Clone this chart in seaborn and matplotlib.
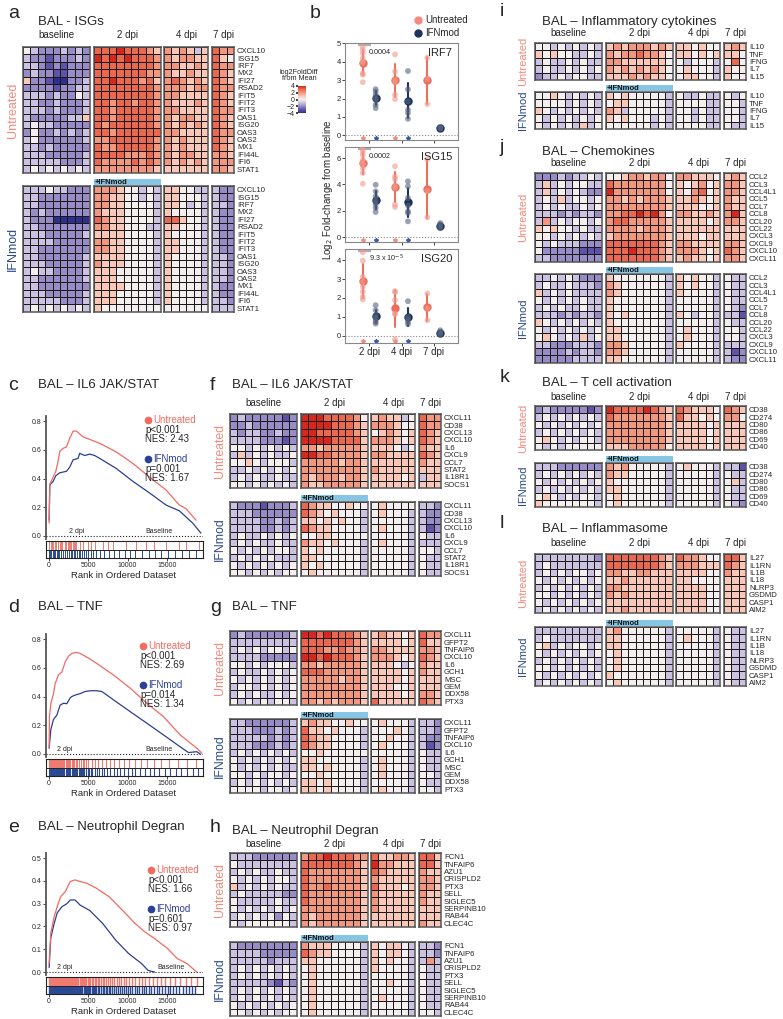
import numpy as np
import pandas as pd
import matplotlib
matplotlib.use('Agg')
import matplotlib.pyplot as plt
import seaborn as sns
from matplotlib.colors import LinearSegmentedColormap

# ---------------- data ----------------
DAYS = ['2 dpi', '4 dpi', '7 dpi']
GROUPS = ['Untreated', 'IFNmod']
BLOCKS = ['baseline', '2 dpi', '4 dpi', '7 dpi']

# heatmap rows: digits 0..8 -> log2FoldDiff -4..4 ; blocks baseline(9) 2dpi(9) 4dpi(6) 7dpi(3)
isg_genes = ['CXCL10', 'ISG15', 'IRF7', 'MX2', 'IFI27', 'RSAD2', 'IFIT5', 'IFIT2', 'IFIT3',
             'OAS1', 'ISG20', 'OAS3', 'OAS2', 'MX1', 'IFI44L', 'IFI6', 'STAT1']
isg_unt = ["432223232 777877765 656535 766", "322122232 878787776 656655 754",
           "332121222 777777776 665565 766", "232211222 777777766 655655 765",
           "522100223 778777675 676565 765", "222212233 777777776 666566 766",
           "333232243 777777776 665555 765", "332232223 776776776 655565 765",
           "333232223 776777776 665555 766", "322222335 776777776 656655 765",
           "343322222 767777776 656565 765", "242232323 776777777 665555 766",
           "342222223 667777776 656555 765", "332322222 766777776 656555 765",
           "333222223 777766676 656655 665", "333332223 766667676 656565 666",
           "343434343 666666665 555555 665"]
isg_ifn = ["333433222 666544343 554433 322", "332222222 665544343 554443 322",
           "332222222 665544443 554343 332", "323222222 655544443 544443 322",
           "322200000 765544443 775443 322", "332222222 665544433 554443 322",
           "333222223 555544443 544443 322", "333322222 665544443 554443 322",
           "332222222 665544443 554443 322", "332222223 555544443 544443 332",
           "333222223 655544443 544443 332", "343322223 555444443 544443 332",
           "332222223 555444443 544443 332", "332222222 555544443 544443 322",
           "333222223 555444443 544443 322", "333332223 555444443 544443 332",
           "343434343 544444444 444444 333"]

il6_genes = ['CXCL11', 'CD38', 'CXCL13', 'CXCL10', 'IL6', 'CXCL9', 'CCL7', 'STAT2', 'IL18R1', 'SOCS1']
il6_unt = ["232222212 888777764 565534 766", "223222222 888877765 666544 766",
           "323322322 887777765 456545 765", "333322212 888877775 666545 765",
           "443434343 665666665 555434 655", "353434334 887766665 665555 765",
           "445434443 666665665 555555 655", "334343434 666666665 655555 555",
           "343433433 656665665 555545 355", "443434343 655666665 555555 555"]
il6_ifn = ["322212223 765544544 454444 332", "333222222 765454443 454443 322",
           "333322323 554545443 444443 322", "333322323 765544443 454443 312",
           "343343434 445544444 444443 433", "343433433 655454443 454443 333",
           "434343443 545444443 444443 443", "343434333 554444443 444443 433",
           "434343434 545444443 444443 433", "443434344 454444443 444443 433"]

tnf_genes = ['CXCL11', 'GFPT2', 'TNFAIP6', 'CXCL10', 'IL6', 'GCH1', 'MSC', 'GEM', 'DDX58', 'PTX3']
tnf_unt = ["232222223 887877765 565545 766", "333333333 777777765 555545 755",
           "343434434 777667665 665555 665", "333322222 887877765 666545 765",
           "443434443 665666665 555434 655", "343343434 777666665 555545 655",
           "434343434 666665665 555545 555", "344343434 666666665 555445 555",
           "343433434 666666665 555545 665", "434343443 665656665 755555 765"]
tnf_ifn = ["332222223 565544544 454443 332", "333222323 755454443 444543 332",
           "333332323 765544443 445443 322", "333222323 765544443 454443 312",
           "343434343 445444444 444443 433", "434343434 554444443 454443 433",
           "434343433 554544443 454443 433", "443434434 445444443 454443 443",
           "343434343 554544443 444443 433", "444434434 554544443 454443 443"]

neu_genes = ['FCN1', 'TNFAIP6', 'AZU1', 'CRISPLD2', 'PTX3', 'SELL', 'SIGLEC5', 'SERPINB10', 'RAB44', 'CLEC4C']
neu_unt = ["333222222 677877766 755665 775", "433333333 777777765 866555 775",
           "343433433 766666665 765555 655", "434343443 766666665 655555 665",
           "534343433 766766665 755545 665", "343333322 766666665 655555 655",
           "433333433 766666665 655555 655", "434343434 666666665 655555 555",
           "343434243 656666665 555555 555", "434444443 656666665 555555 655"]
neu_ifn = ["322222222 655544443 545543 332", "333322222 765544443 545543 332",
           "333332333 554444443 545443 363", "343434343 454444443 544443 433",
           "343434343 454444443 444443 433", "333332132 454444443 445443 433",
           "343434343 454444443 444443 433", "343434343 454444443 454443 433",
           "434343434 454444443 444443 433", "443434344 454444443 444443 443"]

cyt_genes = ['IL10', 'TNF', 'IFNG', 'IL7', 'IL15']
cyt_unt = ["443434343 565666565 554544 565", "545443343 656676654 554545 554",
           "343343433 665555554 434443 474", "343343434 656565654 454443 544",
           "233434433 555656554 455443 544"]
cyt_ifn = ["445434343 545444443 433433 434", "444434343 455444443 444433 443",
           "543434343 653444443 443433 443", "434343434 545444343 443433 443",
           "434343534 444444343 444433 433"]

chem_genes = ['CCL2', 'CCL3', 'CCL4L1', 'CCL5', 'CCL7', 'CCL8', 'CCL20', 'CCL22',
              'CXCL3', 'CXCL9', 'CXCL10', 'CXCL11']
chem_unt = ["222323343 445665664 665554 565", "353434433 766666664 545645 665",
            "353434322 866666664 546745 665", "343534434 665656665 556545 655",
            "343433434 666666665 555445 655", "333232332 667787864 665565 685",
            "363434434 677666665 555545 665", "545443433 666656665 555555 555",
            "443434343 566666665 555455 555", "434333222 777777765 665555 665",
            "422222111 777877765 666545 765", "332222222 777777765 565545 665"]
chem_ifn = ["334343222 544444443 545443 433", "343343332 654444443 545443 433",
            "534343333 654444443 544443 433", "434343433 544444443 444443 433",
            "343433433 544444443 444443 432", "333232332 545444443 543443 331",
            "543434343 544444443 444443 433", "434343434 554444443 454443 443",
            "454343534 554444443 454443 443", "332223332 665444443 544443 333",
            "222232332 665444443 444443 312", "222223333 554444443 444443 322"]

tcell_genes = ['CD38', 'CD274', 'CD80', 'CD86', 'CD69', 'CD40']
tcell_unt = ["232222212 877778765 765554 765", "343434343 766666665 755454 664",
             "434343434 666666665 555545 555", "343434343 666666665 555545 555",
             "454343443 666666665 555545 555", "434344444 555666664 555545 555"]
tcell_ifn = ["333222222 656444443 454443 331", "343434343 655444443 444443 433",
             "434343434 544444443 444443 453", "343434343 554444443 444443 433",
             "454343443 454444443 444443 433", "544444443 454444443 444443 432"]

infl_genes = ['IL27', 'IL1RN', 'IL1B', 'IL18', 'NLRP3', 'GSDMD', 'CASP1', 'AIM2']
infl_unt = ["333333332 777777765 766544 775", "343333333 777777765 666555 765",
            "343434434 665566555 555544 655", "434343434 556555555 554444 555",
            "343434343 665555555 555544 555", "443434343 656555555 555544 555",
            "434343434 555555555 555544 555", "343434343 556555555 555544 555"]
infl_ifn = ["333333333 564444443 444443 433", "343333333 554444443 454443 433",
            "453434434 554444443 444443 433", "434343434 454444443 444443 433",
            "343434343 454444443 444443 433", "443434343 454444443 444443 433",
            "434343434 544444443 444443 433", "343434343 454444443 444443 433"]

# panel b: log2 fold-change from baseline
irf7 = {('2 dpi', 'Untreated'): [4.82, 4.64, 4.46, 4.19, 4.0, 3.95, 3.38, 3.29, 2.89],
        ('2 dpi', 'IFNmod'): [2.51, 2.38, 2.2, 2.02, 1.93, 1.66, 1.48],
        ('4 dpi', 'Untreated'): [4.4, 3.47, 3.01, 2.87, 2.2, 1.97],
        ('4 dpi', 'IFNmod'): [3.5, 2.5, 1.84, 1.39, 1.21, 0.9],
        ('7 dpi', 'Untreated'): [4.22, 3.05, 1.7],
        ('7 dpi', 'IFNmod'): [0.45, 0.40, 0.36]}
isg15 = {('2 dpi', 'Untreated'): [6.7, 6.5, 6.25, 5.87, 5.67, 5.5, 5.24, 4.86, 4.05],
         ('2 dpi', 'IFNmod'): [3.97, 3.47, 3.09, 2.84, 2.63, 2.46, 2.2, 1.9],
         ('4 dpi', 'Untreated'): [5.37, 4.6, 4.4, 3.9, 3.72, 2.46, 2.28],
         ('4 dpi', 'IFNmod'): [4.23, 3.85, 2.96, 2.38, 1.95, 1.82, 1.19],
         ('7 dpi', 'Untreated'): [5.9, 3.5, 1.5],
         ('7 dpi', 'IFNmod'): [1.06, 0.94, 0.81, 0.68]}
isg20 = {('2 dpi', 'Untreated'): [4.41, 3.97, 3.12, 2.86, 2.59, 2.33, 2.06, 1.92],
         ('2 dpi', 'IFNmod'): [1.62, 1.36, 1.09, 0.97, 0.86, 0.74, 0.65],
         ('4 dpi', 'Untreated'): [2.36, 2.3, 1.89, 1.18, 1.15, -0.18],
         ('4 dpi', 'IFNmod'): [1.83, 1.0, 0.86, 0.74, 0.62],
         ('7 dpi', 'Untreated'): [2.24, 1.45, 0.83],
         ('7 dpi', 'IFNmod'): [0.3, 0.21, 0.12, 0.07]}

# GSEA running enrichment scores (rank, ES)
c_unt_rank = [0, 85, 510, 850, 1140, 1360, 1780, 2200, 2630, 3050, 3470, 4320, 6440, 8550,
              10670, 12780, 14900, 16590, 17440, 18710]
c_unt_es = [0.09, 0.36, 0.41, 0.45, 0.52, 0.59, 0.61, 0.62, 0.68, 0.73, 0.73, 0.69, 0.645,
            0.585, 0.505, 0.41, 0.32, 0.215, 0.19, 0.11]
c_ifn_rank = [0, 85, 510, 850, 1360, 2200, 2630, 3050, 3680, 3890, 4530, 5170, 5800, 6440,
              8550, 10670, 12780, 14900, 16590, 18280, 19330]
c_ifn_es = [0.11, 0.355, 0.38, 0.42, 0.44, 0.45, 0.48, 0.53, 0.54, 0.575, 0.56, 0.57, 0.56,
            0.54, 0.47, 0.38, 0.30, 0.215, 0.175, 0.09, 0.02]
d_unt_rank = [0, 40, 215, 550, 765, 1185, 1620, 2040, 2460, 2890, 3530, 3950, 5010, 6075,
              8190, 10320, 12450, 14560, 16690, 18815, 19455]
d_unt_es = [0.05, 0.26, 0.35, 0.42, 0.49, 0.55, 0.57, 0.64, 0.68, 0.70, 0.707, 0.70, 0.667,
            0.63, 0.55, 0.458, 0.353, 0.26, 0.133, 0.04, 0.005]
d_ifn_rank = [0, 215, 550, 980, 1400, 1825, 2255, 2675, 2890, 3310, 3950, 4585, 5225, 6075,
              6715, 8190, 10320, 12450, 14560, 16690, 17750, 18815, 19240]
d_ifn_es = [0.04, 0.17, 0.24, 0.27, 0.34, 0.353, 0.35, 0.39, 0.40, 0.41, 0.42, 0.435, 0.44,
            0.44, 0.435, 0.377, 0.295, 0.214, 0.133, 0.05, 0.01, 0.016, 0.0]
e_unt_rank = [0, 207, 620, 1033, 1447, 2067, 2687, 3307, 3927, 4753, 5993, 7647, 8887, 10953,
              12193, 13433, 15087, 16327, 17567, 18807]
e_unt_es = [0.037, 0.17, 0.24, 0.287, 0.33, 0.353, 0.397, 0.404, 0.397, 0.39, 0.368, 0.33,
            0.287, 0.213, 0.176, 0.147, 0.103, 0.059, 0.037, 0.0]
e_ifn_rank = [0, 207, 620, 1033, 1653, 2273, 2687, 3307, 3927, 5167, 6820, 8473, 10127,
              11780, 12607, 13433]
e_ifn_es = [0.02, 0.15, 0.21, 0.26, 0.287, 0.30, 0.316, 0.316, 0.294, 0.27, 0.213, 0.14,
            0.081, 0.037, 0.007, 0.0]

# gene-set hit positions in the ranked list (barcodes)
c_unt_hits = [40, 180, 330, 520, 700, 930, 1150, 1360, 1500, 1700, 1990, 2200, 2350, 2500,
              2650, 2840, 3000, 3150, 3300, 3470, 3900, 4320, 4950, 5380, 5800, 6860, 7490,
              8130, 9820, 11090, 12360, 13420, 14900, 16590, 17440, 19130]
c_ifn_hits = [20, 150, 300, 450, 620, 800, 980, 1150, 1300, 1500, 1750, 2000, 2250, 2500,
              2750, 2950, 3150, 3350, 3550, 3750, 3950, 4150, 4400, 4700, 5000, 5300, 5650,
              6000, 6500, 7000, 7600, 8200, 8900, 9600, 10300, 11000, 11800, 12700, 13500,
              14300, 15100, 16000, 16900, 17800, 18700]
d_unt_hits = [20, 120, 230, 340, 460, 580, 700, 820, 940, 1060, 1180, 1300, 1420, 1550, 1680,
              1810, 1950, 2100, 2250, 2400, 2550, 2700, 2850, 3000, 3200, 3400, 3600, 3800,
              4000, 4250, 4500, 4750, 5000, 5400, 5800, 6200, 6700, 7200, 7700, 8300, 8900,
              9500, 10200, 11000, 11700, 12500, 13400, 14200, 15300, 16400, 17600, 18700]
d_ifn_hits = [10, 100, 200, 300, 400, 500, 600, 700, 800, 900, 1000, 1100, 1200, 1300, 1400,
              1500, 1650, 1800, 1950, 2100, 2250, 2400, 2550, 2700, 2850, 3000, 3150, 3300,
              3450, 3600, 3750, 3900, 4050, 4200, 4350, 4500, 4700, 4900, 5100, 5300, 5500,
              5800, 6100, 6400, 6700, 7000, 7400, 7800, 8200, 8600, 9000, 9500, 10000, 10500,
              11000, 11600, 12200, 12800, 13400, 14000, 14700, 15400, 16100, 16800, 17500,
              18300, 19000]
e_unt_hits = [0, 90, 180, 260, 350, 430, 520, 610, 700, 790, 880, 960, 1050, 1150, 1240, 1330,
              1420, 1520, 1610, 1700, 1800, 1900, 2000, 2100, 2200, 2300, 2400, 2500, 2620,
              2740, 2860, 2980, 3100, 3220, 3350, 3480, 3610, 3740, 3870, 4000, 4150, 4300,
              4450, 4600, 4750, 4900, 5050, 5200, 5400, 5600, 5800, 6000, 6200, 6400, 6600,
              6800, 7000, 7250, 7500, 7750, 8000, 8300, 8600, 8900, 9200, 9500, 9800, 10200,
              10600, 11000, 11400, 11800, 12200, 12700, 13200, 13700, 14200, 14800, 15400,
              16000, 16700, 17400, 18100, 18800]
e_ifn_hits = [0, 80, 160, 240, 320, 400, 480, 560, 640, 720, 800, 880, 960, 1040, 1120, 1200,
              1290, 1380, 1470, 1560, 1650, 1740, 1830, 1920, 2010, 2100, 2200, 2300, 2400,
              2500, 2600, 2700, 2800, 2900, 3000, 3120, 3240, 3360, 3480, 3600, 3720, 3840,
              3960, 4100, 4240, 4380, 4520, 4660, 4800, 4950, 5100, 5250, 5400, 5550, 5700,
              5850, 6000, 6200, 6400, 6600, 6800, 7000, 7200, 7400, 7600, 7800, 8000, 8250,
              8500, 8750, 9000, 9250, 9500, 9750, 10000, 10300, 10600, 10900, 11200, 11500,
              11800, 12100, 12400, 12700, 13000, 13350, 13700, 14050, 14400, 14750, 15100,
              15450, 15800, 16200, 16600, 17000, 17400, 17800, 18200, 18600]

# ---------------- style ----------------
sns.set_theme(style='white')
plt.rcParams['font.family'] = ['Liberation Sans', 'DejaVu Sans']

RED = '#f26a60'
BLUE = '#2b3f94'
UNT_COL = '#f28b7d'
IFN_COL = '#2e4a86'
hm_cmap = LinearSegmentedColormap.from_list(
    'l2fd', ['#2d2f8f', '#5e53a8', '#978cc6', '#c9c1e0', '#f4efef',
             '#f8c8b8', '#f29880', '#e96a50', '#d7261e'])

W, H = 783, 1019
fig = plt.figure(figsize=(W / 100, H / 100), dpi=100)


def px_axes(x, y, w, h):
    return fig.add_axes([x / W, 1 - (y + h) / H, w / W, h / H])


def ftext(x, y, s, **kw):
    kw.setdefault('va', 'center')
    fig.text(x / W, 1 - y / H, s, **kw)


CELL = 7.4
OFFS = [0, 71, 141, 189]
NCOLS = [9, 9, 6, 3]


def draw_hm(x0, y0, rows, genes):
    mat = np.array([[int(ch) - 4 for ch in r.replace(' ', '')] for r in rows], float)
    n = len(rows)
    start = 0
    for k in range(4):
        ax = px_axes(x0 + OFFS[k], y0, NCOLS[k] * CELL, n * CELL)
        sns.heatmap(mat[:, start:start + NCOLS[k]], ax=ax, cmap=hm_cmap, vmin=-4, vmax=4,
                    cbar=False, linewidths=0.65, linecolor='#1a1a1a',
                    xticklabels=False, yticklabels=False)
        for sp in ax.spines.values():
            sp.set_visible(True)
            sp.set_linewidth(1.1)
            sp.set_color('#555555')
        start += NCOLS[k]
    ax.yaxis.tick_right()
    ax.set_yticks(np.arange(n) + 0.5)
    ax.set_yticklabels(genes, fontsize=5.6, rotation=0)
    ax.tick_params(axis='y', length=0, pad=2)


def hm_panel(letter, lx, ly, title, tx, ty, x0, head_y, unt_top, ifn_top, genes, unt, ifn,
             rot_x, rot_fs):
    ftext(lx, ly, letter, fontsize=14)
    ftext(tx, ty, title, fontsize=9.5)
    if head_y is not None:
        for k, lab in enumerate(BLOCKS):
            ftext(x0 + OFFS[k] + NCOLS[k] * CELL / 2, head_y, lab, fontsize=7, ha='center')
    draw_hm(x0, unt_top, unt, genes)
    draw_hm(x0, ifn_top, ifn, genes)
    bar = px_axes(x0 + OFFS[1], ifn_top - 7.5, NCOLS[1] * CELL, 6.5)
    bar.set_facecolor('#86c5e4')
    bar.set_xticks([])
    bar.set_yticks([])
    for sp in bar.spines.values():
        sp.set_visible(False)
    bar.text(0.01, 0.45, '+IFNmod', fontsize=5.5, fontweight='bold', va='center',
             transform=bar.transAxes, color='#111111')
    n = len(genes)
    ftext(rot_x, unt_top + n * CELL / 2, 'Untreated', rotation=90, ha='center',
          color=UNT_COL, fontsize=rot_fs)
    ftext(rot_x, ifn_top + n * CELL / 2, 'IFNmod', rotation=90, ha='center',
          color=IFN_COL, fontsize=rot_fs)


# ---------------- heatmaps ----------------
hm_panel('a', 8, 13, 'BAL - ISGs', 38, 22, 23, 35, 47, 186, isg_genes, isg_unt, isg_ifn, 13, 9)
hm_panel('f', 210, 385, 'BAL \u2013 IL6 JAK/STAT', 232, 385, 230, 403, 414, 502,
         il6_genes, il6_unt, il6_ifn, 220, 8.8)
hm_panel('g', 210, 607, 'BAL \u2013 TNF', 232, 607, 230, None, 631, 719,
         tnf_genes, tnf_unt, tnf_ifn, 220, 8.8)
hm_panel('h', 210, 828, 'BAL \u2013 Neutrophil Degran', 232, 831, 230, 844, 853, 942,
         neu_genes, neu_unt, neu_ifn, 220, 8.8)
hm_panel('i', 500, 12, 'BAL \u2013 Inflammatory cytokines', 542, 22, 535, 33, 43, 92,
         cyt_genes, cyt_unt, cyt_ifn, 523, 8)
hm_panel('j', 500, 148, 'BAL \u2013 Chemokines', 542, 152, 535, 163, 173, 274,
         chem_genes, chem_unt, chem_ifn, 523, 8)
hm_panel('k', 500, 378, 'BAL \u2013 T cell activation', 542, 383, 535, 397, 406, 463,
         tcell_genes, tcell_unt, tcell_ifn, 523, 8)
hm_panel('l', 500, 523, 'BAL \u2013 Inflammasome', 542, 529, 535, 543, 554, 627,
         infl_genes, infl_unt, infl_ifn, 523, 8)

# ---------------- panel b ----------------
ftext(310, 13, 'b', fontsize=14)
fig.add_artist(plt.Line2D([418 / W], [1 - 20 / H], marker='o', color=UNT_COL, markersize=5,
                          transform=fig.transFigure))
fig.add_artist(plt.Line2D([418 / W], [1 - 33 / H], marker='o', color='#1c3358', markersize=5,
                          transform=fig.transFigure))
ftext(425, 20, 'Untreated', fontsize=7)
ftext(425, 33, 'IFNmod', fontsize=7)

ftext(299, 72, 'log2FoldDiff', fontsize=5.2, ha='center')
ftext(299, 79, 'from Mean', fontsize=5.2, ha='center')
cax = px_axes(298, 86, 8, 27)
sm = plt.cm.ScalarMappable(cmap=hm_cmap, norm=plt.Normalize(-4, 4))
cb = fig.colorbar(sm, cax=cax, ticks=[4, 2, 0, -2, -4])
cb.outline.set_visible(False)
cax.yaxis.set_ticks_position('left')
cax.tick_params(labelsize=5, length=1.5, pad=1)

pt_pal = {'Untreated': '#f29a8c', 'IFNmod': '#56637f'}
mean_pal = {'Untreated': '#ee6e5e', 'IFNmod': '#1c3358'}


def strip_panel(ytop, ybot, data, ylim, yticks, gene, pval, star_y, show_x):
    ax = px_axes(345, ytop, 113, ybot - ytop)
    rows = [(d, g, v) for (d, g), vals in data.items() for v in vals]
    df = pd.DataFrame(rows, columns=['day', 'grp', 'val'])
    sns.stripplot(data=df, x='day', y='val', hue='grp', order=DAYS, hue_order=GROUPS,
                  dodge=True, jitter=False, palette=pt_pal, alpha=0.6, size=4.2,
                  linewidth=0, ax=ax, legend=False)
    sns.pointplot(data=df, x='day', y='val', hue='grp', order=DAYS, hue_order=GROUPS,
                  dodge=0.4, errorbar='sd', palette=mean_pal, markers='o', markersize=4,
                  linestyle='none', err_kws={'linewidth': 1.5}, ax=ax, legend=False)
    ax.axhline(0, color='#888888', ls=':', lw=0.8, zorder=0)
    for i in range(2):
        ax.plot([i - 0.2], [star_y], marker='*', color=UNT_COL, ms=3, ls='none')
        ax.plot([i + 0.2], [star_y], marker='*', color='#3b5ba8', ms=3, ls='none')
    ax.hlines(ylim[1] - 0.02 * (ylim[1] - ylim[0]), -0.35, 0.05, color='#b0b0b0', lw=1.6)
    ax.text(0.0, ylim[1] - 0.1 * (ylim[1] - ylim[0]), pval, fontsize=5.2, va='center')
    ax.text(0.95, 0.95, gene, transform=ax.transAxes, ha='right', va='top', fontsize=8)
    ax.set_xlim(-0.75, 2.75)
    ax.set_ylim(*ylim)
    ax.set_yticks(yticks)
    ax.set_xlabel('')
    ax.set_ylabel('')
    ax.tick_params(labelsize=5.5, length=2, width=0.6, left=True, bottom=True, pad=1)
    if not show_x:
        ax.set_xticklabels([])
    else:
        ax.tick_params(axis='x', labelsize=7)
    for sp in ax.spines.values():
        sp.set_color('#888888')
        sp.set_linewidth(0.8)


strip_panel(43, 140, irf7, (-0.25, 5.02), [0, 1, 2, 3, 4, 5], 'IRF7', '0.0004', -0.12, False)
strip_panel(147, 242, isg15, (-0.38, 6.84), [0, 2, 4, 6], 'ISG15', '0.0002', -0.2, False)
strip_panel(249, 343, isg20, (-0.37, 4.58), [0, 1, 2, 3, 4], 'ISG20',
            '9.3 x 10$^{-5}$', -0.25, True)
ftext(328, 190, 'Log$_2$ Fold-change from baseline', rotation=90, ha='center', fontsize=7)

# ---------------- GSEA panels ----------------


def gsea_panel(letter, title, title_y, top, bot, ylim, yticks, yfmt, unt_r, unt_e, ifn_r,
               ifn_e, unt_hits, ifn_hits, stats, lx, ly, dpi_x, base_x, hit_lw):
    ftext(8, title_y, letter, fontsize=14)
    ftext(38, title_y, title, fontsize=9.5)
    ax = px_axes(46, top, 157, bot - top)
    sns.lineplot(x=ifn_r, y=ifn_e, ax=ax, color=BLUE, lw=0.9, estimator=None, sort=False)
    sns.lineplot(x=unt_r, y=unt_e, ax=ax, color=RED, lw=0.9, estimator=None, sort=False)
    ax.axhline(0, color='#222222', ls=':', lw=0.8)
    ax.set_xlim(-400, 19600)
    ax.set_ylim(*ylim)
    ax.set_yticks(yticks)
    ax.set_yticklabels([yfmt.format(v) for v in yticks])
    ax.set_xticks([])
    ax.tick_params(axis='y', labelsize=5, length=2, width=0.6, left=True, pad=1)
    for name, sp in ax.spines.items():
        sp.set_visible(name == 'left')
    ax.spines['left'].set_color('#555555')
    ax.spines['left'].set_linewidth(1.3)
    ax.text(dpi_x, 0.005, '2 dpi', fontsize=5, ha='center', va='bottom')
    ax.text(base_x, 0.005, 'Baseline', fontsize=5, ha='center', va='bottom')

    bc = px_axes(46, bot + 2, 157, 17)
    bc.vlines(unt_hits, 0.5, 1, color='#f07a70', lw=hit_lw)
    bc.vlines(ifn_hits, 0, 0.5, color='#2a4a96', lw=hit_lw)
    bc.axhline(0.5, color='#222222', lw=0.7)
    bc.set_xlim(-400, 19600)
    bc.set_ylim(0, 1)
    bc.set_yticks([])
    bc.set_xticks([0, 5000, 10000, 15000])
    bc.tick_params(axis='x', labelsize=5, length=2, width=0.6, bottom=True, pad=1)
    for sp in bc.spines.values():
        sp.set_visible(True)
        sp.set_color('#222222')
        sp.set_linewidth(0.8)
    ftext(124, bot + 36, 'Rank in Ordered Dataset', fontsize=6.8, ha='center')

    (u1, u2), (i1, i2) = stats
    yy = [ly, ly + 10, ly + 19, ly + 39, ly + 49, ly + 58]
    fig.add_artist(plt.Line2D([(lx + 3) / W], [1 - yy[0] / H], marker='o', color=RED,
                              markersize=4.5, transform=fig.transFigure))
    fig.add_artist(plt.Line2D([(lx + 3) / W], [1 - yy[3] / H], marker='o', color=BLUE,
                              markersize=4.5, transform=fig.transFigure))
    ftext(lx + 8, yy[0], 'Untreated', color=RED, fontsize=7)
    ftext(lx, yy[1], u1, fontsize=7)
    ftext(lx, yy[2], u2, fontsize=7)
    ftext(lx + 8, yy[3], 'IFNmod', color=BLUE, fontsize=7)
    ftext(lx, yy[4], i1, fontsize=7)
    ftext(lx, yy[5], i2, fontsize=7)


gsea_panel('c', 'BAL \u2013 IL6 JAK/STAT', 385, 416, 539, (-0.021, 0.835),
           [0.0, 0.2, 0.4, 0.6, 0.8], '{:.1f}', c_unt_rank, c_unt_es, c_ifn_rank, c_ifn_es,
           c_unt_hits, c_ifn_hits, (('p<0.001', 'NES: 2.43'), ('p=0.001', 'NES: 1.67')),
           145, 420, 3500, 14000, 0.7)
gsea_panel('d', 'BAL \u2013 TNF', 607, 634, 757, (-0.021, 0.835),
           [0.0, 0.2, 0.4, 0.6, 0.8], '{:.1f}', d_unt_rank, d_unt_es, d_ifn_rank, d_ifn_es,
           d_unt_hits, d_ifn_hits, (('p<0.001', 'NES: 2.69'), ('p=0.014', 'NES: 1.34')),
           140, 646, 2000, 14000, 0.8)
gsea_panel('e', 'BAL \u2013 Neutrophil Degran', 827, 853, 975, (-0.013, 0.522),
           [0.0, 0.1, 0.2, 0.3, 0.4, 0.5], '{:.1f}', e_unt_rank, e_unt_es, e_ifn_rank,
           e_ifn_es, e_unt_hits, e_ifn_hits,
           (('p<0.001', 'NES: 1.66'), ('p=0.601', 'NES: 0.97')),
           148, 870, 2000, 15500, 1.0)

fig.savefig('out.png', dpi=100, facecolor='white')
